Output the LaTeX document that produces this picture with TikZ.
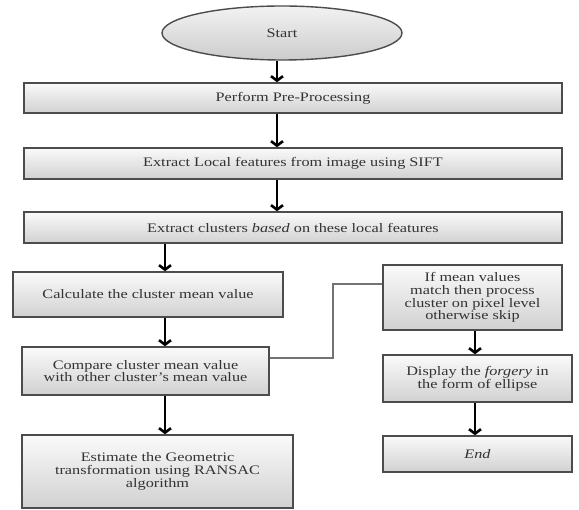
\documentclass[tikz,border=0pt]{standalone}
\usepackage{fontspec}
\setmainfont{Liberation Serif}[FakeStretch=1.25]
\usepackage{tikz}
\usetikzlibrary{shapes.geometric}
\usetikzlibrary{arrows.meta}
\usetikzlibrary{shadows}
\tikzset{
  stepbox/.style={draw=black!70, line width=1.4pt, top color=gray!4, bottom color=gray!36,
    align=center, inner sep=2pt, text=black!80, font=\fontsize{13}{12.7}\selectfont,
    drop shadow={opacity=0.25, shadow xshift=1pt, shadow yshift=-1.2pt}},
  startbox/.style={ellipse, draw=black!70, line width=1.4pt, top color=gray!10, bottom color=gray!40,
    inner sep=0pt, text=black!80, font=\fontsize{13}{12.7}\selectfont},
  arr/.style={line width=2.6pt, -{Straight Barb[length=4.5pt,width=12pt]}},
  link/.style={draw=black!55, line width=1.2pt},
}
\newcommand{\flowbox}[6]{\node[stepbox, minimum width=#3pt, minimum height=#4pt] (#5) at (#1,#2) {#6};}

\begin{document}
\begin{tikzpicture}[x=1pt,y=-1pt]
        \useasboundingbox (0,0) rectangle (579,510);
        % start
        \node[startbox, minimum width=240pt, minimum height=54pt] (start) at (282,33) {Start};
        % full width steps
        \flowbox{293}{98}{538}{30}{pre}{Perform Pre-Processing}
        \flowbox{293}{163.5}{538}{31}{sift}{Extract Local features from image using SIFT}
        \flowbox{293}{227.5}{538}{31}{clus}{Extract clusters \textit{based} on these local features}
        % left column
        \flowbox{148}{294.5}{270}{45}{calc}{Calculate the cluster mean value}
        \flowbox{145.5}{371}{247}{48}{comp}{Compare cluster mean value\\with other cluster's mean value}
        \flowbox{157.5}{471.5}{271}{73}{est}{Estimate the Geometric\\transformation using RANSAC\\algorithm}
        % right column
        \flowbox{472.5}{297.5}{179}{65}{ifm}{If mean values\\match then process\\cluster on pixel level\\otherwise skip}
        \flowbox{477.5}{378.5}{189}{47}{disp}{Display the \textit{forgery} in\\the form of ellipse}
        \flowbox{477.5}{454}{189}{36}{stop}{\textit{End}}
        % arrow columns
        \coordinate (topcol) at (277,0);
        \coordinate (lcol) at (165,0);
        \coordinate (rcol) at (475,0);
        \draw[arr] (start.south -| topcol) -- (pre.north -| topcol);
        \draw[arr] (pre.south -| topcol) -- (sift.north -| topcol);
        \draw[arr] (sift.south -| topcol) -- (clus.north -| topcol);
        \draw[arr] (clus.south -| lcol) -- (calc.north -| lcol);
        \draw[arr] (calc.south -| lcol) -- (comp.north -| lcol);
        \draw[arr] (comp.south -| lcol) -- (est.north -| lcol);
        \draw[arr] (ifm.south -| rcol) -- (disp.north -| rcol);
        \draw[arr] (disp.south -| rcol) -- (stop.north -| rcol);
        % link to right column
        \coordinate (bend) at (333,284);
        \draw[link] ([yshift=13pt]comp.east) -| (bend) -- (bend -| ifm.west);
    \end{tikzpicture}
\end{document}
